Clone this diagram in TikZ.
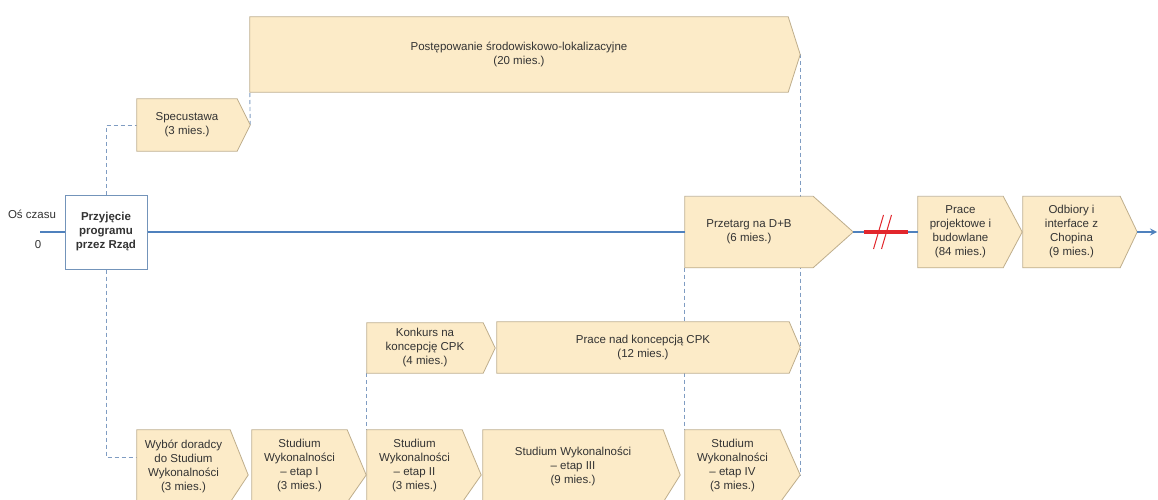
\documentclass[tikz,border=0pt]{standalone}
\usepackage{fontspec}
\setmainfont{Liberation Sans}
\usetikzlibrary{backgrounds,calc}

\definecolor{stagefill}{HTML}{FCEBC8}
\definecolor{stageedge}{HTML}{BFAE8C}
\definecolor{axisblue}{HTML}{4F81BD}
\definecolor{boxblue}{HTML}{7394BA}
\definecolor{linkblue}{HTML}{7F9CC2}
\definecolor{breakred}{HTML}{E2262C}
\definecolor{txt}{HTML}{333333}

\tikzset{
    stage/.style={fill=stagefill, text=txt, font=\fontsize{11.5}{14}\selectfont, align=center, inner sep=0pt},
    stageline/.style={draw=stageedge, line width=0.8pt},
    link/.style={draw=linkblue, line width=0.9pt, dash pattern=on 4pt off 3pt},
    axis/.style={draw=axisblue, line width=2pt},
}

\begin{document}
\begin{tikzpicture}[x=1pt, y=-1pt, >=stealth]
        \useasboundingbox (0,0) rectangle (1158,500);
        \clip (0,0) rectangle (1158,500);

        \node[text=txt, font=\fontsize{11.5}{14}\selectfont] (osc) at (32,214) {Oś czasu};
        \node[text=txt, font=\fontsize{11.5}{14}\selectfont] (zero) at (38,245) {0};
        \coordinate (axstart) at (40,232);
        \coordinate (axend) at (1157,232);

        \node[draw=boxblue, fill=white, line width=1pt, text=txt, font=\bfseries\fontsize{11.5}{14}\selectfont, align=center, inner sep=0pt, minimum width=82pt, minimum height=74pt] (prz) at (106,232) {Przyjęcie\\programu\\przez Rząd};

        % gorny pas
        \node[stage, minimum width=100pt, minimum height=52pt] (spec) at (187,125) {Specustawa\\(3 mies.)};
        \node[stage, minimum width=538pt, minimum height=75pt] (post) at (519,54.5) {Postępowanie środowiskowo-lokalizacyjne\\(20 mies.)};

        % os czasu
        \node[stage, minimum width=128pt, minimum height=71pt] (przet) at (749,232) {Przetarg na D+B\\(6 mies.)};
        \node[stage, minimum width=85pt, minimum height=71pt] (prace) at (960.5,232) {Prace\\projektowe i\\budowlane\\(84 mies.)};
        \node[stage, minimum width=97pt, minimum height=71pt] (odb) at (1071.5,232) {Odbiory i\\interface z\\Chopina\\(9 mies.)};

        % koncepcja
        \node[stage, minimum width=116pt, minimum height=50pt] (konk) at (425,348) {Konkurs na\\koncepcję CPK\\(4 mies.)};
        \node[stage, minimum width=292pt, minimum height=51pt] (koncep) at (643,347.5) {Prace nad koncepcją CPK\\(12 mies.)};

        % studium
        \node[stage, minimum width=93pt, minimum height=72pt] (wyb) at (183.5,466) {Wybór doradcy\\do Studium\\Wykonalności\\(3 mies.)};
        \node[stage, minimum width=95pt, minimum height=72pt] (et1) at (299.5,466) {Studium\\Wykonalności\\– etap I\\(3 mies.)};
        \node[stage, minimum width=95pt, minimum height=72pt] (et2) at (414.5,466) {Studium\\Wykonalności\\– etap II\\(3 mies.)};
        \node[stage, minimum width=180pt, minimum height=72pt] (et3) at (573,466) {Studium Wykonalności\\– etap III\\(9 mies.)};
        \node[stage, minimum width=95pt, minimum height=72pt] (et4) at (732.5,466) {Studium\\Wykonalności\\– etap IV\\(3 mies.)};

        \foreach \n/\tw/\ty in {spec/13/0, post/12/0, przet/40/0, prace/19/0, odb/17/0, konk/12/0, koncep/11/0, wyb/18/9, et1/19/9, et2/19/9, et3/17/9, et4/20/9} {
            \coordinate (\n-tip) at ([shift={(\tw pt,-\ty pt)}]\n.east);
            \fill[stagefill] (\n.north east) -- (\n-tip) -- (\n.south east) -- cycle;
            \draw[stageline] (\n.north west) -- (\n.north east) -- (\n-tip) -- (\n.south east) -- (\n.south west) -- cycle;
        }

        \draw[axis] (axstart) -- (prz.west);
        \draw[axis] (prz.east) -- (przet.west);
        \draw[axis] (przet-tip) -- (prace.west);
        \draw[axis, ->] (odb-tip) -- (axend);

        \coordinate (brk) at ($(przet-tip)!0.5!(prace.west)$);
        \draw[breakred, line width=3.5pt] ([xshift=-22pt]brk) -- ([xshift=22pt]brk);
        \draw[breakred, line width=1pt] ([shift={(-12pt,-17pt)}]brk) -- ([shift={(-2pt,17pt)}]brk);
        \draw[breakred, line width=1pt] ([shift={(-4pt,-17pt)}]brk) -- ([shift={(6pt,17pt)}]brk);

        \begin{scope}[on background layer]
            \fill[white] (0,0) rectangle (1158,500);
            \draw[link] (prz.north) |- (spec.west);
            \draw[link] (spec-tip) -- (post.south west);
            \draw[link] (prz.south) |- ([yshift=9pt]wyb.west);
            \draw[link] (konk.south west) -- (et2.north west);
            \draw[link] (przet.south west) -- (et4.north west);
            \draw[link] (post-tip) -- (et4-tip);
        \end{scope}
    \end{tikzpicture}
\end{document}
